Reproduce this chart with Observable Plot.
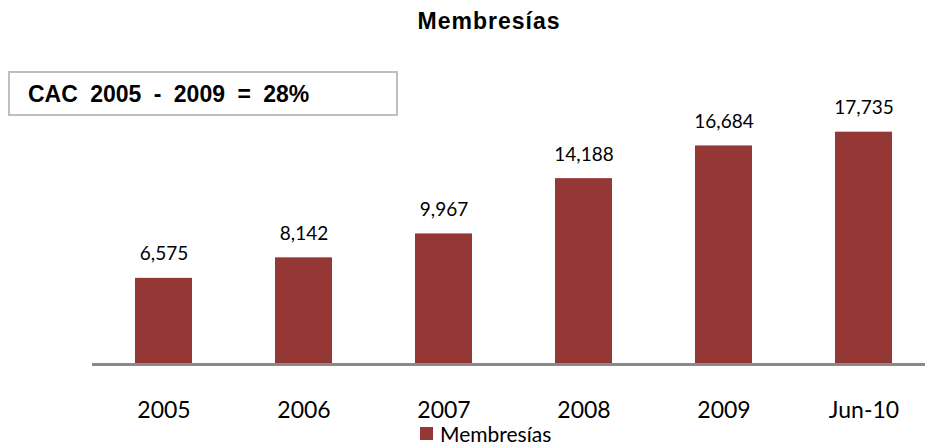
<!DOCTYPE html>
<html>
<head>
<meta charset="utf-8">
<script src="https://cdn.jsdelivr.net/npm/d3@7"></script>
<script src="https://cdn.jsdelivr.net/npm/@observablehq/plot@0.6"></script>
<style>
  html, body { margin: 0; padding: 0; background: #fff; }
  #wrap { position: relative; width: 925px; height: 446px; overflow: hidden; }
  #title { position: absolute; left: 0; width: 978px; top: 8px; text-align: center;
    font: bold 23px "Liberation Sans", Arial, sans-serif; letter-spacing: 1px; color: #000; }
  #box { position: absolute; left: 8px; top: 71px; width: 386px; height: 41px;
    border: 2px solid #bfbfbf; box-sizing: content-box; }
  #boxtext { position: absolute; left: 28px; top: 82px;
    font: bold 23px "Liberation Sans", Arial, sans-serif; word-spacing: 6px; color: #000; line-height: 24px; }
  #legend { position: absolute; left: 420px; top: 423px; font: 21px/21px Lato, sans-serif; color: #000;
    display: flex; align-items: center; }
  #legend span.sw { display: inline-block; width: 13px; height: 13px; background: #953735; margin-right: 7px; }
  #chart { position: absolute; left: 0; top: 0; }
</style>
</head>
<body>
<div id="wrap">
  <div id="chart"></div>
  <div id="title">Membresías</div>
  <div id="box"></div>
  <div id="boxtext">CAC 2005 - 2009 = 28%</div>
  <div id="legend"><span class="sw"></span>Membresías</div>
</div>
<script>
const categories = ["2005", "2006", "2007", "2008", "2009", "Jun-10"];
const membresias = [6575, 8142, 9967, 14188, 16684, 17735];
const seriesName = "Membresías";

const data = categories.map((c, i) => ({cat: c, value: membresias[i]}));
const fmt = d3.format(",");

const chart = Plot.plot({
  width: 925,
  height: 446,
  marginLeft: 92,
  marginRight: 0,
  marginTop: 0,
  marginBottom: 0,
  x: {domain: categories, range: [92, 934], paddingInner: 0.594, paddingOuter: 0.297, axis: null},
  y: {domain: [0, 20000], range: [364, 102], axis: null},
  style: {background: "transparent"},
  marks: [
    Plot.barY(data, {x: "cat", y: "value", fill: "#953735"}),
    Plot.ruleY([0], {stroke: "#898989", strokeWidth: 3}),
    Plot.text(data, {x: "cat", y: "value", text: d => fmt(d.value), dy: -24,
      fontSize: 19, fontFamily: "Lato, sans-serif", fill: "#000"}),
    Plot.text(data, {x: "cat", y: () => 0, text: "cat", dy: 46,
      fontSize: 23, fontFamily: "Lato, sans-serif", fill: "#000"})
  ]
});
document.getElementById("chart").appendChild(chart);
</script>
</body>
</html>
